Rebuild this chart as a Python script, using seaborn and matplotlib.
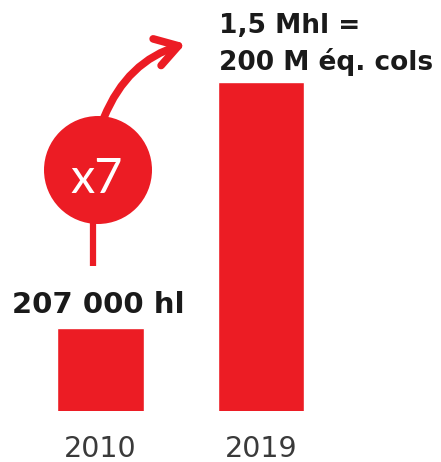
import matplotlib
matplotlib.use('Agg')
import matplotlib.pyplot as plt
from matplotlib.patches import Circle, FancyArrowPatch
import seaborn as sns
import pandas as pd

# data
years = ['2010', '2019']
volumes_hl = [207000, 1500000]
bar_labels = ['207 000 hl', '1,5 Mhl =\n200 M éq. cols']
growth_label = 'x7'

red = '#EC1C24'
dark = '#1a1a1a'

sns.set_style('white')
plt.rcParams['font.family'] = ['DejaVu Sans']

fig = plt.figure(figsize=(4.41, 4.62), dpi=100)

# bars (log scale so the small bar stays visible like in the original)
ax = fig.add_axes([0, 51/462, 1, 329/462])
df = pd.DataFrame({'year': years, 'hl': volumes_hl})
sns.barplot(data=df, x='year', y='hl', color=red, saturation=1, width=0.54, ax=ax)
ax.set_yscale('log')
ax.set_ylim(1.06e5, 1.5e6)
ax.set_xlim(-0.626, 2.121)
ax.set_xlabel('')
ax.set_ylabel('')
ax.tick_params(axis='y', which='both', left=False, labelleft=False)
ax.tick_params(axis='x', length=0, pad=17, labelsize=20.5, labelcolor='#3a3a3a')
for s in ax.spines.values():
    s.set_visible(False)
ax.patch.set_alpha(0)

# overlay in pixel coords for the annotations
ov = fig.add_axes([0, 0, 1, 1])
ov.set_xlim(0, 441)
ov.set_ylim(462, 0)
ov.axis('off')
ov.patch.set_alpha(0)

ov.text(12, 313, bar_labels[0], fontsize=21, fontweight='bold', color=dark,
        ha='left', va='baseline')
l1, l2 = bar_labels[1].split('\n')
ov.text(219, 33, l1, fontsize=19, fontweight='bold', color=dark, ha='left', va='baseline')
ov.text(219, 70, l2, fontsize=19, fontweight='bold', color=dark, ha='left', va='baseline')

ov.add_patch(Circle((98, 170), 54, color=red, lw=0))
ov.text(97, 193, growth_label, fontsize=35, color='white', family=['Lato', 'DejaVu Sans'],
        fontweight='normal', ha='center', va='baseline')
ov.plot([93, 93], [222, 266], color=red, lw=4.5, solid_capstyle='butt')
arrow = FancyArrowPatch((103, 120), (188, 43),
                        arrowstyle='->,head_length=0.8,head_width=0.5',
                        connectionstyle='arc3,rad=-0.25',
                        mutation_scale=20, lw=5.5, color=red)
ov.add_patch(arrow)

fig.savefig('out.png', dpi=100)
